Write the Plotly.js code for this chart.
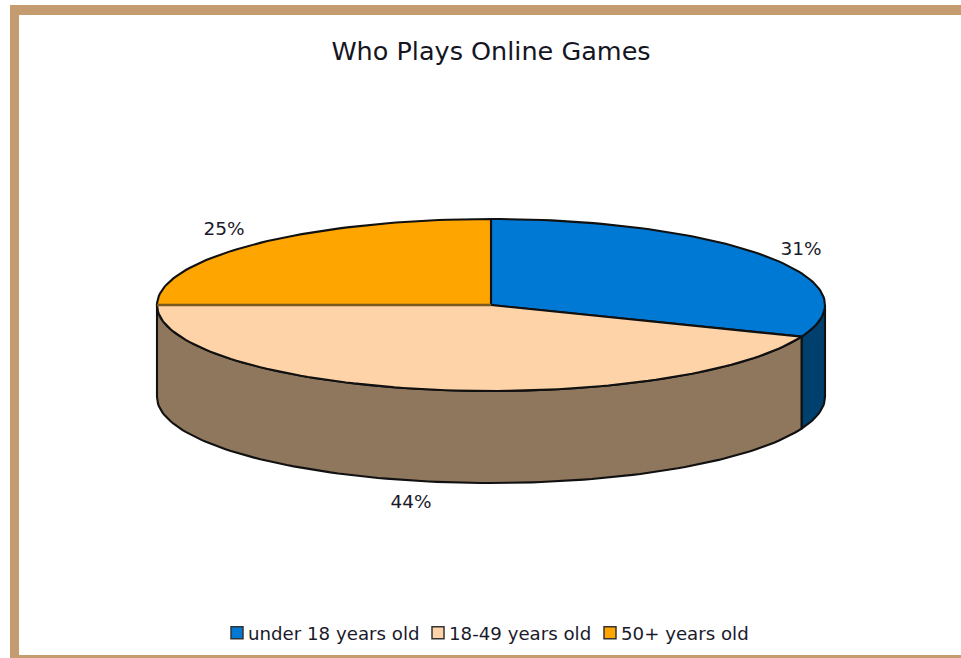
<!DOCTYPE html>
<html>
<head>
<meta charset="utf-8">
<script src="https://cdn.plot.ly/plotly-3.0.1.min.js"></script>
<style>html,body{margin:0;padding:0;background:#fff;overflow:hidden}</style>
</head>
<body>
<div id="chart" style="width:961px;height:658px"></div>
<script>
// Chart content
const chartTitle = 'Who Plays Online Games';
const categories = ['under 18 years old', '18-49 years old', '50+ years old'];
const shares = [31, 44, 25];

// Slice styling
const topColors = ['#0079D4', '#FFD3A8', '#FFA500'];
const sideColors = ['#00406F', '#8F775D', '#8A5A00'];
const outline = '#111111';
const seamColor = '#7A5A20';
const frameColor = '#C49C6F';
const textColor = '#1a1a2a';
const fontFamily = '"DejaVu Sans", Verdana, sans-serif';

// Disc geometry, in axis units (the axes run one unit per pixel)
const cx = 491, cy = 305, rx = 334, ry = 86, depth = 92;
// Anchors of the percentage labels, same order as the shares
const labelX = [801, 411, 224];
const labelY = [250, 503, 230];

// Angles are clockwise from twelve o'clock
function rim(a, dy) {
  const t = a * Math.PI / 180;
  return [cx + rx * Math.sin(t), cy - ry * Math.cos(t) + dy];
}
function arc(a0, a1, dy) {
  const n = Math.max(2, Math.ceil(Math.abs(a1 - a0) / 1.5));
  const pts = [];
  for (let i = 0; i <= n; i++) pts.push(rim(a0 + (a1 - a0) * i / n, dy));
  return pts;
}
function polygon(pts, color, lineColor, name) {
  return {
    type: 'scatter', mode: 'lines', fill: 'toself', fillcolor: color,
    x: pts.map(p => p[0]), y: pts.map(p => p[1]),
    line: {color: lineColor || outline, width: 2.1},
    hoverinfo: 'skip', showlegend: false, name: name
  };
}

const total = shares.reduce((a, b) => a + b, 0);
const traces = [];
const tops = [];
let start = 0;
let lastBoundary = 0;
shares.forEach((v, i) => {
  const end = start + v / total * 360;
  // The wall of a slice shows only on the front half of the disc
  const a0 = Math.max(start, 90), a1 = Math.min(end, 270);
  if (a1 > a0) {
    const wall = arc(a0, a1, 0).concat(arc(a1, a0, depth));
    wall.push(wall[0]);
    traces.push(polygon(wall, sideColors[i], outline, categories[i] + ' side'));
  }
  const top = [[cx, cy]].concat(arc(start, end, 0));
  top.push([cx, cy]);
  tops.push(polygon(top, topColors[i], outline, categories[i]));
  if (i === 1) lastBoundary = end;
  start = end;
});
traces.push(...tops);

// Softer seam between the last two slices
const seamEnd = rim(lastBoundary, 0);
traces.push({
  type: 'scatter', mode: 'lines', x: [seamEnd[0], cx], y: [seamEnd[1], cy],
  line: {color: seamColor, width: 2.6}, hoverinfo: 'skip', showlegend: false
});

// Percentage labels
traces.push({
  type: 'scatter', mode: 'text', x: labelX, y: labelY,
  text: shares.map(v => v + '%'), textposition: 'middle center',
  textfont: {family: fontFamily, size: 18.5, color: textColor},
  hoverinfo: 'skip', showlegend: false
});

// Legend keys
categories.forEach((c, i) => traces.push({
  type: 'scatter', mode: 'markers', x: [-50], y: [-50], name: c,
  marker: {symbol: 'square', size: 12, color: topColors[i], line: {color: '#333', width: 1.5}},
  hoverinfo: 'skip', showlegend: true
}));

const layout = {
  width: 961, height: 658,
  margin: {l: 0, r: 0, t: 0, b: 0},
  paper_bgcolor: '#fff', plot_bgcolor: 'rgba(0,0,0,0)',
  title: {
    text: chartTitle, x: 491 / 961, xanchor: 'center', y: 1 - 51 / 658, yanchor: 'middle',
    font: {family: fontFamily, size: 25.5, color: '#15151f'}
  },
  xaxis: {range: [0, 961], visible: false, fixedrange: true},
  yaxis: {range: [658, 0], visible: false, fixedrange: true},
  showlegend: true,
  legend: {
    orientation: 'h', x: 222 / 961, xanchor: 'left', y: 1 - 633 / 658, yanchor: 'middle',
    font: {family: fontFamily, size: 18.2, color: textColor},
    bgcolor: 'rgba(0,0,0,0)', traceorder: 'normal', itemclick: false, itemdoubleclick: false
  },
  shapes: [
    {type: 'rect', layer: 'below', xref: 'x', yref: 'y', x0: 10, x1: 961, y0: 5, y1: 658,
      fillcolor: frameColor, line: {width: 0}},
    {type: 'rect', layer: 'below', xref: 'x', yref: 'y', x0: 19, x1: 961, y0: 15, y1: 655,
      fillcolor: '#fff', line: {width: 0}}
  ]
};

Plotly.newPlot('chart', traces, layout, {displayModeBar: false, responsive: false}).then(gd => {
  // Pull the legend keys in tight against their text and close up the entries
  const keyLeft = [230, 431, 603];
  const items = gd.querySelectorAll('.legend .traces');
  const legendBox = gd.querySelector('.legend').getBoundingClientRect();
  items.forEach((g, i) => {
    const pts = g.querySelector('.legendpoints');
    const text = g.querySelector('.legendtext');
    const toggle = g.querySelector('.legendtoggle');
    const ty = (g.getAttribute('transform').match(/,\s*([-\d.]+)/) || [0, 0])[1];
    g.setAttribute('transform', 'translate(' + (keyLeft[i] - legendBox.left) + ',' + ty + ')');
    pts.setAttribute('transform', 'translate(-13,0)');
    text.setAttribute('x', 18);
    if (toggle) toggle.setAttribute('width', 0);
  });
});
</script>
</body>
</html>
